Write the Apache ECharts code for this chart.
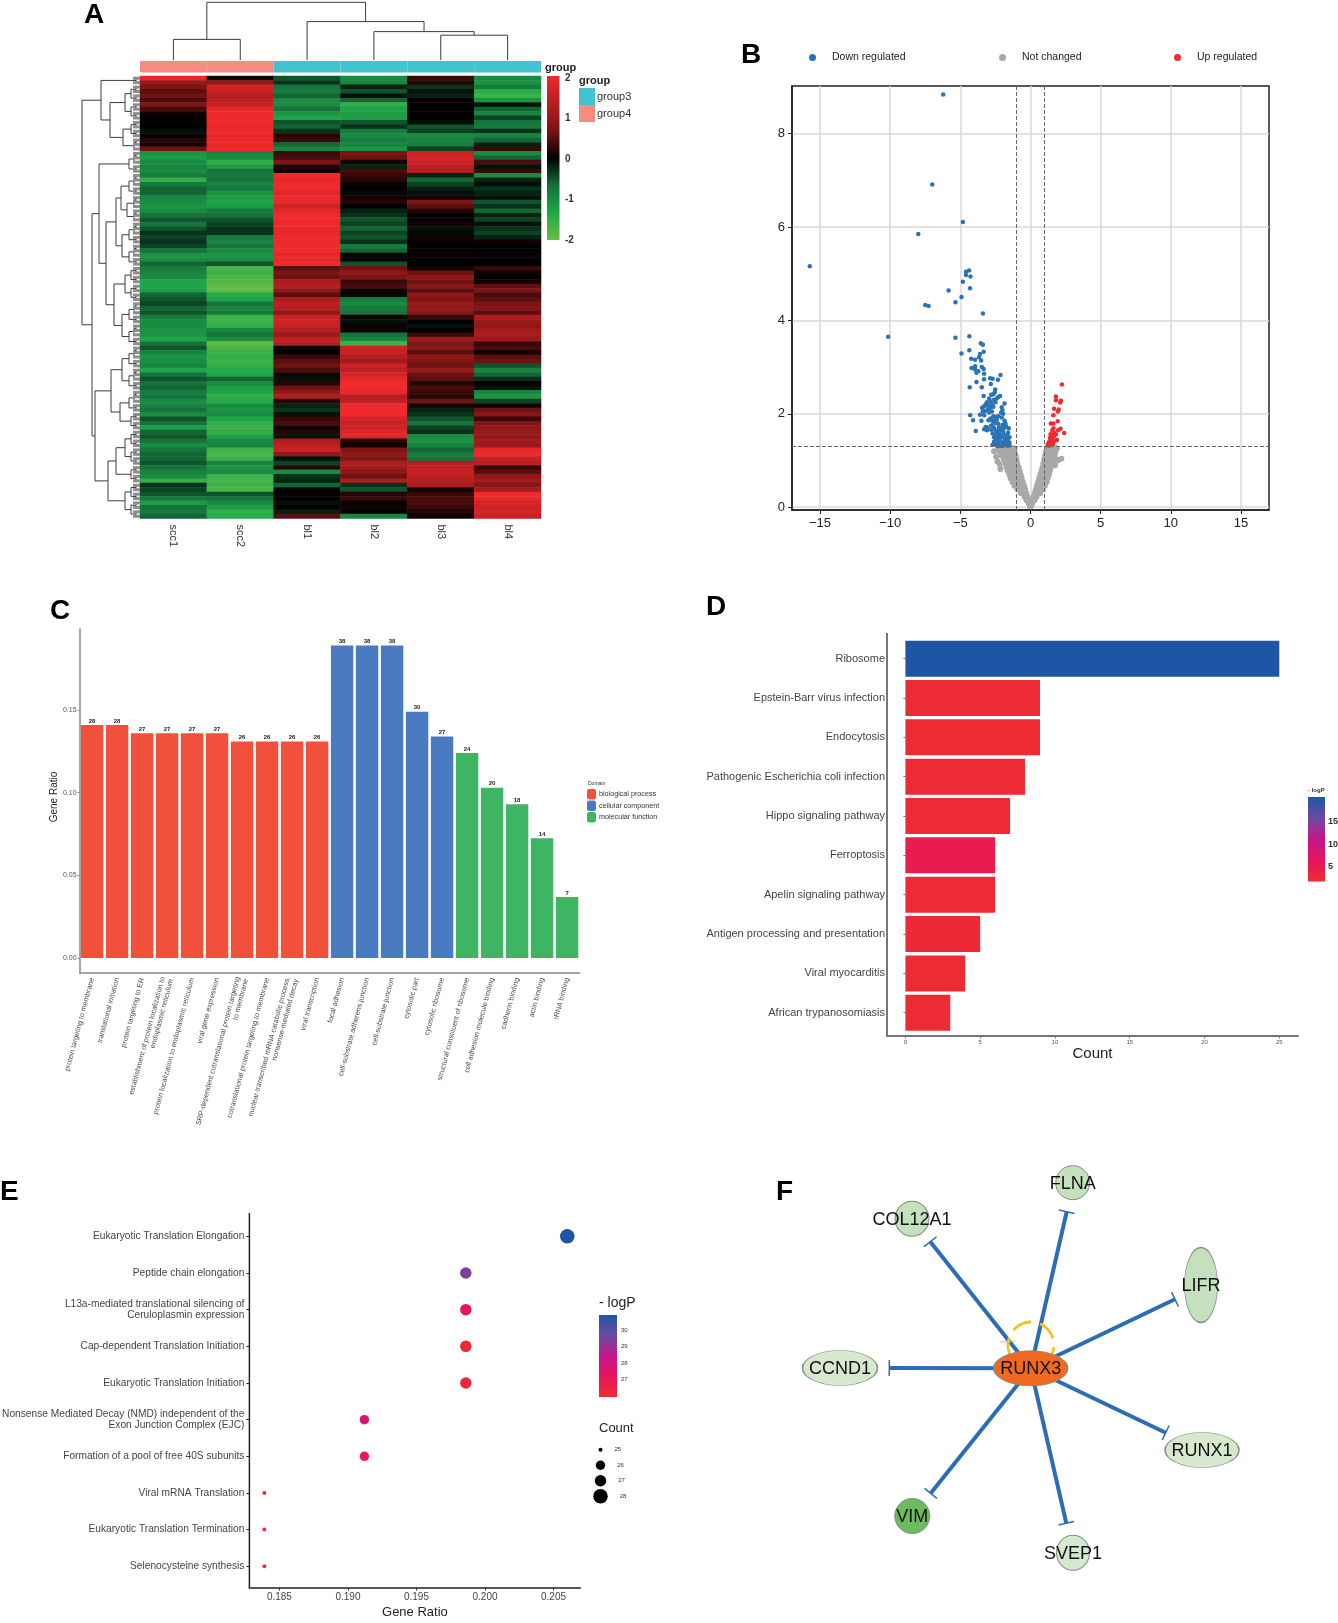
<!DOCTYPE html>
<html>
<head>
<meta charset="utf-8">
<title>figure</title>
<style>
html, body { margin: 0; padding: 0; background: #fff; }
#main { width: 1338px; height: 1623px; }
</style>
<script src="https://cdn.jsdelivr.net/npm/echarts@6/dist/echarts.min.js"></script>
</head>
<body>
<div id="main"></div>
<script>
// panel A
var sampleNames = ['scc1', 'scc2', 'bl1', 'bl2', 'bl3', 'bl4'];
var sampleGroups = ['group4', 'group4', 'group3', 'group3', 'group3', 'group3'];
var scc1 = [1.9,1.0,.7,.5,.6,.4,.7,.4,.1,0,
	.05,0,-.1,.05,.2,.1,.6,-1.1,-1.2,-1.0,
	-.9,-1.0,-.8,-1.5,-.8,-.6,-.6,-.9,-1.0,-1.1,
	-1.0,-.7,-.5,-.7,-.5,-.3,-.4,-.3,-.4,-.7,
	-1.1,-1.0,-.6,-.8,-.9,-1.0,-1.3,-1.3,-1.2,-.6,
	-.5,-.4,-.6,-.5,-.8,-1.0,-1.0,-1.1,-1.1,-1.3,
	-.7,-.5,-.9,-1.1,-1.0,-.9,-1.3,-.7,-.5,-.7,
	-.6,-.8,-.7,-1.0,-.9,-.7,-1.0,-.5,-.7,-1.2,
	-.6,-.5,-.7,-1.0,-.7,-.6,-.6,-.5,-.7,-.9,
	-1.0,-1.5,-.3,-.4,-.5,-.8,-1.2,-.7,-.8,-.6];
var scc2 = [.1,.9,1.6,1.5,1.3,1.4,1.5,1.9,2,2,
	2,1.9,2,1.9,2,1.9,2,-.9,-1.0,-1.5,
	-1.2,-.7,-.8,-.7,-.9,-.8,-1.1,-1.2,-1.3,-1.2,
	-.8,-.7,-.5,-.4,-.3,-.3,-.8,-.9,-.7,-1.0,
	-1.1,-1.0,-.5,-1.7,-1.6,-1.7,-1.8,-1.9,-1.9,-1.4,
	-1.3,-.7,-.9,-.8,-1.6,-1.6,-1.5,-.9,-.7,-1.0,
	-1.9,-1.7,-1.6,-1.5,-1.6,-1.5,-1.4,-1.3,-.6,-1.0,
	-1.2,-1.3,-1.5,-1.4,-1.0,-1.1,-1.0,-1.3,-1.5,-1.6,
	-1.5,-1.2,-1.0,-.9,-1.6,-1.7,-1.6,-.9,-1.1,-1.0,
	-1.6,-1.7,-1.6,-1.7,-.5,-.7,-1.0,-1.2,-1.5,-1.4];
var bl1 = [-.5,-.3,-.7,-.8,-.6,-1.0,-1.0,-.7,-1.1,-1.3,
	-.5,-.6,-.3,.2,.3,-.6,-.9,.3,.4,.7,
	.2,.1,2,1.9,2,2,1.8,2,1.9,1.6,
	1.9,2,2,2,1.9,1.9,2,2,2,2,
	1.9,1.9,2,.5,.7,.6,1.2,1.3,.9,.5,
	1.2,1.4,1.3,.9,1.5,1.6,1.5,1.3,1.0,1.4,
	1.3,.1,0,.3,.5,.6,.4,.1,-.1,.2,
	.6,.9,1.2,.2,-.2,-.3,-.1,.3,.4,.1,
	.2,-.1,1.2,1.4,1.5,.9,-.1,-.4,.2,-1.0,
	-.3,-.2,-.6,0,.05,0,-.1,0,-.2,.5];
var bl2 = [-1.0,-.9,-.2,-.5,-.1,-.6,-1.5,-1.3,-1.2,-1.2,
	-.5,-.3,-.8,-1.0,-.8,-.9,-1.1,.7,.6,.1,
	-.2,.4,.3,.2,.05,0,-.05,.1,.2,0,
	-.2,-.3,-.5,-.4,-.6,-.4,-.5,-.3,-.8,-.6,
	0,.05,-.5,.6,.9,.7,.3,.4,.1,-.05,
	-.8,-1.0,-.8,-.7,.1,-.1,.05,.1,-.7,-.9,
	-1.6,1.6,1.5,1.3,1.1,1.6,1.4,1.7,1.9,2,
	2,1.9,1.3,1.4,2,2,2,1.7,1.5,1.6,
	1.8,1.8,.2,.1,.7,.9,.7,1.2,1.1,.9,
	.6,1.2,-.3,-.5,.2,.3,.05,.1,0,-.9];
var bl3 = [.3,.2,-.3,-.1,-.2,.05,0,0,0,0,
	-.1,-.5,-.4,-1.0,-.9,-.8,-.4,1.6,1.7,1.6,
	1.4,1.3,-.2,-.6,-.4,-.2,-.1,.1,.7,.5,
	.2,0,.05,.1,-.1,-.05,.1,.05,0,0,
	.05,0,0,.1,.6,.9,.6,.8,.5,.9,
	.7,1,.9,.8,.3,0,-.1,0,.3,1.0,
	.7,.8,.5,.9,.7,.6,1.0,.6,.5,.2,
	.4,.3,.2,.6,.1,-.2,-.3,-.5,-.7,-.4,
	-.3,-1.0,-1.1,-.9,-.6,-.8,-.7,1.3,1.4,1.5,
	1.4,1.3,1.2,.1,.3,.4,.4,.3,.2,.1];
var bl4 = [-1.0,-1.1,-.8,-1.4,-1.6,-1.1,-.1,-.6,-.9,-.4,
	-.7,-.8,-.3,-.9,-.6,-.2,.3,-1.0,-.6,.4,
	-.1,.3,-1.0,-.2,-.1,-.3,-.2,-.1,-.5,-.3,
	-.6,-.2,-.4,-.1,-.3,-.4,-.2,.1,0,0,
	.05,0,0,.3,.1,0,.1,.5,.7,.4,
	.5,.7,.8,.5,1.2,1.0,.9,1.1,1.2,1.0,
	.3,.4,.1,.5,.6,-.5,-.9,-.6,-.3,.05,
	-.1,-.9,-1.1,-.4,.1,.6,.8,.3,.7,.9,
	1.0,.9,1.1,1.0,1.9,2,1.5,1.4,.3,.5,
	.9,1.1,.8,1.1,2,1.9,1.7,1.6,1.7,1.5];
var heatColumns = [scc1, scc2, bl1, bl2, bl3, bl4];
var heatColors = ['#6abd45', '#20a84a', '#14703a', '#000000', '#7a1414', '#b81f22', '#ee2a2c'];
var heatTicks = [2, 1, 0, -1, -2];
// column dendrogram: left col, right col, height, left child height, right child height
var topLinks = [[0, 1, 20.6, 0, 0], [4, 5, 24.8, 0, 0], [3, 4.5, 28.4, 0, 24.8], [2, 3.75, 38.4, 0, 28.4], [0.5, 2.875, 57.7, 20.6, 38.4]];
// row dendrogram: [depth, upper child, lower child], 0 is one row
var p2 = [4, 0, 0];
var p3 = [6, p2, 0];
var p4 = [9, p2, p2];
var p5 = [11, p3, p2];
var p6 = [13, p3, p3];
var p8 = [15, p4, p4];
var p10 = [18, p5, p5];
var rowTree = [58,
	[39, p2, [30, p8, [17, p4, p3]]],
	[48,
		[41, p5, [34, [24, [19, p5, p6], p10], [26, p8, p10]]],
		[45, [29, p10, [20, p5, p4]], [32, [24, p8, p4], p8]]
	]
];

// panel B
var downPoints = [[-6.22,8.84],[-7.0,6.91],[-4.82,6.11],[-8.0,5.85],[-15.73,5.16],[-10.15,3.65],[-4.38,5.07],[-4.6,5.04],[-4.6,4.97],[-4.28,4.94],
	[-4.82,4.83],[-5.84,4.64],[-4.31,4.69],[-4.92,4.5],[-5.35,4.39],[-7.5,4.33],[-7.26,4.31],[-3.39,4.15],[-5.35,3.63],[-4.36,3.66],
	[-3.54,3.51],[-3.39,3.48],[-4.36,3.36],[-4.92,3.29],[-3.34,3.33],[-3.6,3.28],[-3.67,3.21],[-4.23,3.18],[-3.95,3.16],[-3.52,3.14],
	[-3.95,3.02],[-4.2,2.98],[-3.47,3.0],[-3.34,2.96],[-3.95,2.95],[-3.72,2.91],[-3.85,2.88],[-3.31,2.86],[-2.14,2.83],[-2.88,2.76],
	[-2.7,2.75],[-2.32,2.73],[-3.31,2.74],[-3.85,2.68],[-2.83,2.64],[-4.33,2.57],[-3.47,2.57],[-2.52,2.52],[-2.55,2.46],[-2.65,2.42],
	[-2.8,2.41],[-2.17,2.38],[-3.34,2.38],[-2.3,2.36],[-2.95,2.33],[-3.1,2.25],[-2.85,2.27],[-2.6,2.3],[-2.4,2.33],[-2.5,2.25],
	[-3.3,2.16],[-3.2,2.2],[-3.0,2.18],[-2.75,2.2],[-2.65,2.15],[-2.85,2.13],[-3.45,2.13],[-3.05,2.1],[-1.85,2.22],[-2.05,2.14],
	[-2.0,2.08],[-3.4,2.05],[-3.25,2.06],[-2.95,2.03],[-2.75,2.05],[-2.1,2.02],[-1.95,2.0],[-3.6,1.98],[-4.3,1.97],[-3.3,1.97],
	[-2.65,1.95],[-2.5,1.93],[-2.3,1.95],[-2.05,1.92],[-2.85,1.9],[-2.55,1.88],[-2.4,1.87],[-4.1,1.86],[-3.5,1.85],[-3.0,1.86],
	[-2.7,1.84],[-1.85,1.85],[-1.8,1.8],[-2.55,1.8],[-2.3,1.78],[-2.0,1.76],[-2.8,1.75],[-1.75,1.74],[-3.2,1.72],[-3.05,1.7],
	[-2.6,1.7],[-2.25,1.7],[-2.05,1.68],[-1.85,1.7],[-1.55,1.69],[-3.9,1.63],[-3.3,1.67],[-3.1,1.65],[-2.8,1.66],[-2.5,1.64],
	[-2.35,1.62],[-2.15,1.64],[-1.95,1.62],[-1.6,1.6],[-2.7,1.58],[-2.45,1.56],[-2.2,1.56],[-1.9,1.55],[-1.65,1.55],[-2.6,1.5],
	[-2.3,1.5],[-2.05,1.5],[-1.75,1.48],[-1.5,1.5],[-2.45,1.45],[-2.2,1.44],[-1.85,1.43],[-1.6,1.44],[-2.6,1.4],[-2.3,1.38],
	[-2.0,1.38],[-1.75,1.37],[-1.5,1.38],[-2.7,1.34],[-2.45,1.33],[-2.15,1.32],[-1.9,1.32],[-1.65,1.32],[-2.35,1.31],[-2.05,1.31],[-1.5,1.32]];
var upPoints = [[2.24,2.63],[1.81,2.37],[2.17,2.28],[1.81,2.29],[2.12,2.24],[1.68,2.11],[2.01,2.09],[1.96,2.05],[1.63,1.97],[1.94,1.84],
	[1.45,1.79],[1.63,1.79],[1.63,1.69],[2.14,1.68],[1.96,1.65],[1.55,1.64],[2.4,1.59],[1.68,1.59],[1.5,1.54],[1.43,1.56],
	[1.81,1.56],[1.66,1.51],[1.38,1.48],[1.58,1.46],[1.89,1.44],[1.45,1.42],[1.71,1.42],[1.3,1.39],[1.5,1.38],[1.25,1.35],
	[1.43,1.35],[1.6,1.35],[1.35,1.32],[1.22,1.32]];
var grayRowY = [0.02, 0.08, 0.15, 0.22, 0.3, 0.38, 0.46, 0.54, 0.62, 0.7, 0.78, 0.86, 0.94, 1.02, 1.1, 1.18, 1.26];
var grayRowX = [[-.03,.03],
	[-.12,-.07,.06,.12],
	[-.27,-.18,.16,.28],
	[-.42,-.3,-.2,.22,.33,.42],
	[-.68,-.55,-.42,-.3,.3,.42,.55,.68],
	[-.92,-.72,-.55,-.38,.38,.55,.72,.88],
	[-1.15,-.92,-.72,-.46,.46,.66,.85,1.02],
	[-1.28,-1.05,-.82,-.55,.54,.75,.98,1.15],
	[-1.42,-1.2,-.96,-.63,.62,.82,1.05,1.22],
	[-1.5,-1.28,-1.05,-.84,-.7,.7,.92,1.12,1.32],
	[-1.62,-1.38,-1.12,-.92,-.78,.78,.98,1.22,1.38],
	[-1.72,-1.45,-1.2,-1.0,-.86,.86,1.06,1.28,1.46],
	[-1.78,-1.52,-1.28,-1.08,-.95,.92,1.15,1.35,1.55],
	[-1.9,-1.62,-1.36,-1.15,-1.0,.98,1.2,1.42,1.62,1.85],
	[-2.05,-1.78,-1.5,-1.28,-1.06,1.04,1.28,1.5,1.72],
	[-2.2,-1.88,-1.6,-1.35,-1.12,1.1,1.35,1.58,1.78],
	[-2.3,-2.0,-1.72,-1.45,-1.22,1.18,1.42,1.66,1.88]];
var grayOutliers = [[-2.6,1.2],[-2.45,1.08],[-2.35,.98],[-2.2,.92],[-2.15,.82],[2.2,1.04],[1.95,1.0],[1.75,.9]];
var volcanoXTicks = [-15, -10, -5, 0, 5, 10, 15];
var volcanoYTicks = [0, 2, 4, 6, 8];

// panel C
var goTerms = ['protein targeting to membrane', 'translational initiation', 'protein targeting to ER',
	'establishment of protein localization to\nendoplasmic reticulum', 'protein localization to endoplasmic reticulum',
	'viral gene expression', 'SRP-dependent cotranslational protein targeting\nto membrane',
	'cotranslational protein targeting to membrane', 'nuclear-transcribed mRNA catabolic process,\nnonsense-mediated decay',
	'viral transcription', 'focal adhesion', 'cell-substrate adherens junction', 'cell-substrate junction',
	'cytosolic part', 'cytosolic ribosome', 'structural constituent of ribosome', 'cell adhesion molecule binding',
	'cadherin binding', 'actin binding', 'rRNA binding'];
var bpRatio = [.141, .141, .136, .136, .136, .136, .131, .131, .131, .131];
var ccRatio = [.189, .189, .189, .149, .134];
var mfRatio = [.124, .103, .093, .0725, .037];
var goCounts = [28, 28, 27, 27, 27, 27, 26, 26, 26, 26, 38, 38, 38, 30, 27, 24, 20, 18, 14, 7];
var goYTicks = [0, 0.05, 0.10, 0.15];

// panel D
var keggNames = ['Ribosome', 'Epstein-Barr virus infection', 'Endocytosis', 'Pathogenic Escherichia coli infection',
	'Hippo signaling pathway', 'Ferroptosis', 'Apelin signaling pathway', 'Antigen processing and presentation',
	'Viral myocarditis', 'African trypanosomiasis'];
var keggCount = [25, 9, 9, 8, 7, 6, 6, 5, 4, 3];
var keggLogP = [20.5, 2.2, 2.1, 2.3, 2.4, 5, 2.3, 2.5, 2.1, 2.2];
var keggTicks = [0, 5, 10, 15, 20, 25];
var logPColors = ['#ee2d2f', '#e6145e', '#c4168a', '#6a4ba0', '#1f55a6'];

// panel E
var reactomeNames = ['Eukaryotic Translation Elongation', 'Peptide chain elongation',
	'L13a-mediated translational silencing of\nCeruloplasmin expression', 'Cap-dependent Translation Initiation',
	'Eukaryotic Translation Initiation', 'Nonsense Mediated Decay (NMD) independent of the\nExon Junction Complex (EJC)',
	'Formation of a pool of free 40S subunits', 'Viral mRNA Translation', 'Eukaryotic Translation Termination', 'Selenocysteine synthesis'];
var reactomeRatio = [.206, .1986, .1986, .1986, .1986, .1912, .1912, .1839, .1839, .1839];
var reactomeLogP = [30.9, 29.4, 27.1, 26.2, 26.3, 27.6, 26.9, 26, 26, 26];
var reactomeCount = [28, 27, 27, 27, 27, 26, 26, 25, 25, 25];
var ratioTicks = [0.185, 0.190, 0.195, 0.200, 0.205];
var countLevels = [25, 26, 27, 28];
var countSizes = { 25 : 4, 26 : 9.5, 27 : 11.5, 28 : 14.5 };

// panel F
var geneNames = ['RUNX3', 'CCND1', 'COL12A1', 'FLNA', 'LIFR', 'RUNX1', 'SVEP1', 'VIM'];
var geneX = [250.7, 60, 132, 292.7, 421, 422, 293, 132.3];
var geneY = [208.3, 208, 58.7, 22.7, 125, 290, 392.7, 356];
var geneW = [74, 75, 34, 34, 33, 74, 33, 35];
var geneH = [35, 35, 35, 34, 75, 35, 35, 35];
var geneFill = ['#ef6a1e', '#d6e9cf', '#c4e0bd', '#c4e0bd', '#c4e0bd', '#d6e9cf', '#d6e9cf', '#6cbb5e'];
var inhibitEndX = [109.3, 150.3, 286.7, 395, 385.7, 286.3, 150.7];
var inhibitEndY = [208, 81.7, 51.7, 139.3, 272.7, 363.3, 333.3];
var selfLoop = [251, 185, 23];

var fontName = '"Liberation Sans", Arial, sans-serif';

var heatData = [];
for (var c = 0; c < heatColumns.length; c++) {
	for (var r = 0; r < heatColumns[c].length; r++) {
		heatData.push([ c, r, heatColumns[c][r] ]);
	}
}
var rowLabels = [];
var rowStubs = [];
for (var r = 0; r < scc1.length; r++) {
	rowLabels.push('' + r);
	rowStubs.push([ r + 0.5 ]);
}

var rowLinks = [];
var leafCursor = 0;
function walkTree(node) {
	if (node === 0) {
		leafCursor++;
		return { pos : leafCursor - 0.5, depth : 0 };
	}
	var a = walkTree(node[1]);
	var b = walkTree(node[2]);
	rowLinks.push([ a.depth, a.pos, node[0], a.pos, node[0], b.pos, b.depth, b.pos ]);
	return { pos : (a.pos + b.pos) / 2, depth : node[0] };
}
walkTree(rowTree);

var topData = [];
for (var i = 0; i < topLinks.length; i++) {
	var l = topLinks[i];
	topData.push([ l[0], l[3], l[0], l[2], l[1], l[2], l[1], l[4] ]);
}

var grayPoints = grayOutliers.slice();
for (var i = 0; i < grayRowY.length; i++) {
	for (var j = 0; j < grayRowX[i].length; j++) {
		grayPoints.push([ grayRowX[i][j], grayRowY[i] ]);
	}
}

function pad(list, before, after) {
	var out = [];
	for (var i = 0; i < before; i++) out.push(null);
	out = out.concat(list);
	for (var i = 0; i < after; i++) out.push(null);
	return out;
}

function linkItem(params, api) {
	var pts = [];
	for (var i = 0; i < 4; i++) {
		pts.push(api.coord([ api.value(i * 2), api.value(i * 2 + 1) ]));
	}
	return {
		type : 'polyline',
		shape : { points : pts },
		style : { fill : null, stroke : '#3c3c3c', lineWidth : 1 }
	};
}

function goLabel(params) {
	return goCounts[params.dataIndex];
}

var texts = [];
function addText(x, y, str, size, opts) {
	var st = { x : x, y : y, text : str, font : (opts && opts.bold ? 'bold ' : '') + size + 'px ' + fontName,
		fill : (opts && opts.fill) || '#222', textAlign : (opts && opts.align) || 'left', textVerticalAlign : 'middle' };
	texts.push({ type : 'text', silent : true, style : st });
}
function scaleTicks(ticks, min, max, top, height, x, size, bold) {
	for (var i = 0; i < ticks.length; i++) {
		addText(x, top + (max - ticks[i]) / (max - min) * height, '' + ticks[i], size, { bold : bold, fill : '#333' });
	}
}
function colorBar(x, y, w, h, colors) {
	var stops = [];
	for (var i = 0; i < colors.length; i++) {
		stops.push({ offset : 1 - i / (colors.length - 1), color : colors[i] });
	}
	texts.push({ type : 'rect', silent : true, shape : { x : x, y : y, width : w, height : h },
		style : { fill : new echarts.graphic.LinearGradient(0, 0, 0, 1, stops.reverse()) } });
}

addText(84, 15, 'A', 28, { bold : true, fill : '#000' });
addText(741, 55, 'B', 28, { bold : true, fill : '#000' });
addText(50, 611, 'C', 28, { bold : true, fill : '#000' });
addText(706, 607, 'D', 28, { bold : true, fill : '#000' });
addText(0, 1192, 'E', 28, { bold : true, fill : '#000' });
addText(776, 1192, 'F', 28, { bold : true, fill : '#000' });

addText(545, 68, 'group', 11, { bold : true, fill : '#222' });
addText(579, 81, 'group', 11, { bold : true, fill : '#222' });
addText(597, 97, 'group3', 11, { fill : '#333' });
addText(597, 114, 'group4', 11, { fill : '#333' });
texts.push({ type : 'rect', silent : true, shape : { x : 579, y : 88, width : 16, height : 17 }, style : { fill : '#42c3cf' } });
texts.push({ type : 'rect', silent : true, shape : { x : 579, y : 105, width : 16, height : 17 }, style : { fill : '#f68b84' } });
colorBar(547, 76, 12.5, 164, heatColors);
scaleTicks(heatTicks, -2, 2, 78, 162, 565, 10, true);

addText(588, 784, 'Domain', 5, { fill : '#333' });

addText(1308, 790, '- logP', 6, { bold : true, fill : '#333' });
colorBar(1308, 797, 17, 84.6, logPColors);
scaleTicks([15, 10, 5], 1.75, 20.5, 797, 84.6, 1328, 9, true);

addText(599, 1303, '- logP', 14, { fill : '#222' });
colorBar(599, 1315, 18, 82, logPColors);
scaleTicks([30, 29, 28, 27], 25.94, 30.9, 1315, 82, 621, 6, false);
addText(599, 1428, 'Count', 13, { fill : '#222' });

texts.push({ type : 'line', silent : true, shape : { x1 : 887, y1 : 633, x2 : 887, y2 : 1036 }, style : { stroke : '#777', lineWidth : 2 } });
texts.push({ type : 'line', silent : true, shape : { x1 : 249.4, y1 : 1213, x2 : 249.4, y2 : 1588 }, style : { stroke : '#222', lineWidth : 1.5 } });

var option = {
	backgroundColor : '#fff',
	animation : false,
	textStyle : { fontFamily : fontName },
	graphic : texts,
	grid : [
		{ left : 140, top : 76, width : 401, height : 442.5, outerBoundsMode : 'none' },
		{ left : 140, top : 61, width : 401, height : 11.5, outerBoundsMode : 'none' },
		{ left : 140, top : 2, width : 401, height : 58, outerBoundsMode : 'none' },
		{ left : 80, top : 76, width : 60, height : 442.5, outerBoundsMode : 'none' },
		{ left : 792, top : 86, width : 477, height : 424, show : true, borderColor : '#222', borderWidth : 1.5, outerBoundsMode : 'none' },
		{ left : 79.6, top : 629, width : 500, height : 344, outerBoundsMode : 'none' },
		{ left : 887, top : 639, width : 411, height : 393.4, outerBoundsMode : 'none' },
		{ left : 249.4, top : 1218, width : 331, height : 366.6, outerBoundsMode : 'none' },
		{ left : 590, top : 1442, width : 30, height : 62, outerBoundsMode : 'none' },
		{ left : 780, top : 1160, width : 500, height : 440, outerBoundsMode : 'none' }
	],
	xAxis : [
		{ gridIndex : 0, type : 'category', data : sampleNames, axisLine : { show : false }, axisTick : { show : false },
			axisLabel : { rotate : -90, fontSize : 11, color : '#333', margin : 6 } },
		{ gridIndex : 1, type : 'category', data : sampleNames, show : false },
		{ gridIndex : 2, type : 'value', min : -0.5, max : 5.5, show : false },
		{ gridIndex : 3, type : 'value', min : 0, max : 60, inverse : true, show : false },
		{ gridIndex : 4, type : 'value', min : -17, max : 17,
			axisLine : { show : true, onZero : false, lineStyle : { color : '#222', width : 1.5 } },
			axisTick : { show : true, customValues : volcanoXTicks, length : 4, lineStyle : { color : '#222' } },
			axisLabel : { customValues : volcanoXTicks, fontSize : 13, color : '#222', margin : 7,
				formatter : function(v) { return ('' + v).replace('-', '\u2212'); } },
			splitLine : { show : true, lineStyle : { color : '#d9d9d9', width : 1.5 } } },
		{ gridIndex : 5, type : 'category', data : goTerms,
			axisLine : { onZero : false, lineStyle : { color : '#888', width : 1.5 } },
			axisTick : { alignWithLabel : true, length : 3, lineStyle : { color : '#888' } },
			axisLabel : { interval : 0, rotate : 75, fontSize : 7.2, lineHeight : 8.5, color : '#4a4a4a', margin : 5, padding : [ 8, 0, 0, 0 ] } },
		{ gridIndex : 6, type : 'value', min : -1.23, max : 26.25, offset : 3,
			axisLine : { show : true, onZero : false, lineStyle : { color : '#777', width : 2 } },
			axisTick : { show : true, customValues : keggTicks, length : 3, lineStyle : { color : '#777' } },
			axisLabel : { customValues : keggTicks, fontSize : 6, color : '#555', margin : 4 },
			splitLine : { show : false },
			name : 'Count', nameLocation : 'middle', nameGap : 9, nameTextStyle : { fontSize : 15, color : '#222' } },
		{ gridIndex : 7, type : 'value', min : 0.18281, max : 0.20696, offset : 3,
			axisLine : { show : true, onZero : false, lineStyle : { color : '#222', width : 1.5 } },
			axisTick : { show : true, customValues : ratioTicks, length : 3, lineStyle : { color : '#333' } },
			axisLabel : { customValues : ratioTicks, fontSize : 10, color : '#444', margin : 5,
				formatter : function(v) { return v.toFixed(3); } },
			splitLine : { show : false },
			name : 'Gene Ratio', nameLocation : 'middle', nameGap : 18, nameTextStyle : { fontSize : 13, color : '#222' } },
		{ gridIndex : 8, type : 'value', min : 0, max : 1, show : false },
		{ gridIndex : 9, type : 'value', min : 0, max : 500, show : false }
	],
	yAxis : [
		{ gridIndex : 0, type : 'category', data : rowLabels, inverse : true, show : false },
		{ gridIndex : 1, type : 'value', min : 0, max : 1, show : false },
		{ gridIndex : 2, type : 'value', min : 0, max : 58, show : false },
		{ gridIndex : 3, type : 'value', min : 0, max : scc1.length, inverse : true, show : false },
		{ gridIndex : 4, type : 'value', min : -0.06, max : 9.02,
			axisLine : { show : true, onZero : false, lineStyle : { color : '#222', width : 1.5 } },
			axisTick : { show : true, customValues : volcanoYTicks, length : 4, lineStyle : { color : '#222' } },
			axisLabel : { customValues : volcanoYTicks, fontSize : 13, color : '#222', margin : 7 },
			splitLine : { show : true, lineStyle : { color : '#d9d9d9', width : 1.5 } } },
		{ gridIndex : 5, type : 'value', min : -0.009, max : 0.199,
			axisLine : { show : true, onZero : false, lineStyle : { color : '#888', width : 1.5 } },
			axisTick : { show : true, customValues : goYTicks, length : 2, lineStyle : { color : '#888' } },
			axisLabel : { customValues : goYTicks, fontSize : 7, color : '#555', margin : 3,
				formatter : function(v) { return v.toFixed(2); } },
			splitLine : { show : false },
			name : 'Gene Ratio', nameLocation : 'middle', nameGap : 18, nameTextStyle : { fontSize : 10, color : '#222', padding : [ 0, 0, 0, 8 ] } },
		{ gridIndex : 6, type : 'category', data : keggNames, inverse : true,
			axisLine : { show : false },
			axisTick : { show : true, alignWithLabel : true, length : 2, lineStyle : { color : '#777' } },
			axisLabel : { interval : 0, fontSize : 11, color : '#444', margin : 2 } },
		{ gridIndex : 7, type : 'category', data : reactomeNames, inverse : true,
			axisLine : { show : false },
			axisTick : { show : true, alignWithLabel : true, length : 3, lineStyle : { color : '#222' } },
			axisLabel : { interval : 0, fontSize : 10.2, lineHeight : 11.5, color : '#444', margin : 5 } },
		{ gridIndex : 8, type : 'value', min : 24.5, max : 28.5, inverse : true, show : false },
		{ gridIndex : 9, type : 'value', min : 0, max : 440, inverse : true, show : false }
	],
	visualMap : [
		{ type : 'continuous', show : false, seriesIndex : 0, dimension : 2, min : -2, max : 2, inRange : { color : heatColors } },
		{ type : 'continuous', show : false, seriesIndex : 10, dimension : 2, min : 1.75, max : 20.5, inRange : { color : logPColors } },
		{ type : 'continuous', show : false, seriesIndex : 11, dimension : 2, min : 25.94, max : 30.9, inRange : { color : logPColors } }
	],
	legend : [
		{ data : [ 'Down regulated' ], left : 804, top : 47, icon : 'circle', itemWidth : 7, itemHeight : 7,
			textStyle : { fontSize : 10.5, color : '#222', padding : [ 0, 0, 0, 11 ] }, selectedMode : false },
		{ data : [ 'Not changed' ], left : 994, top : 47, icon : 'circle', itemWidth : 7, itemHeight : 7,
			textStyle : { fontSize : 10.5, color : '#222', padding : [ 0, 0, 0, 11 ] }, selectedMode : false },
		{ data : [ 'Up regulated' ], left : 1169, top : 47, icon : 'circle', itemWidth : 7, itemHeight : 7,
			textStyle : { fontSize : 10.5, color : '#222', padding : [ 0, 0, 0, 11 ] }, selectedMode : false },
		{ data : [ 'biological process', 'cellular component', 'molecular function' ], orient : 'vertical',
			left : 587, top : 789, itemWidth : 9, itemHeight : 10.5, itemGap : 1, padding : 0, selectedMode : false,
			textStyle : { fontSize : 7.2, color : '#333', padding : [ 0, 0, 0, -2 ] } }
	],
	series : [
		{ name : 'heat', type : 'heatmap', xAxisIndex : 0, yAxisIndex : 0, data : heatData, progressive : 0 },
		{ name : 'groups', type : 'bar', xAxisIndex : 1, yAxisIndex : 1, barWidth : '100%', silent : true,
			data : sampleGroups.map(function(g) {
				return { value : 1, itemStyle : { color : g == 'group4' ? '#f68b84' : '#42c3cf' } };
			}) },
		{ name : 'columnTree', type : 'custom', xAxisIndex : 2, yAxisIndex : 2, clip : false, silent : true,
			renderItem : linkItem, data : topData },
		{ name : 'rowTree', type : 'custom', xAxisIndex : 3, yAxisIndex : 3, clip : false, silent : true,
			renderItem : linkItem, data : rowLinks },
		{ name : 'Not changed', type : 'scatter', xAxisIndex : 4, yAxisIndex : 4, symbolSize : 6, data : grayPoints, itemStyle : { color : '#a9a9a9', opacity : 1 } },
		{ name : 'Down regulated', type : 'scatter', xAxisIndex : 4, yAxisIndex : 4, symbolSize : 4.5, data : downPoints, itemStyle : { color : '#2a73b5', opacity : 1 },
			markLine : { silent : true, symbol : 'none', label : { show : false },
				lineStyle : { color : '#666', type : 'dashed', width : 1 },
				data : [ { xAxis : -1 }, { xAxis : 1 }, { yAxis : 1.3 } ] } },
		{ name : 'Up regulated', type : 'scatter', xAxisIndex : 4, yAxisIndex : 4, symbolSize : 4.5, data : upPoints, itemStyle : { color : '#ee2a33', opacity : 1 } },
		{ name : 'biological process', type : 'bar', stack : 'go', xAxisIndex : 5, yAxisIndex : 5, barWidth : 22.4, data : pad(bpRatio, 0, 10), itemStyle : { color : '#f1513c' },
			label : { show : true, position : 'top', fontSize : 6, fontWeight : 'bold', distance : 1, color : '#222', formatter : goLabel } },
		{ name : 'cellular component', type : 'bar', stack : 'go', xAxisIndex : 5, yAxisIndex : 5, barWidth : 22.4, data : pad(ccRatio, 10, 5), itemStyle : { color : '#4a7abf' },
			label : { show : true, position : 'top', fontSize : 6, fontWeight : 'bold', distance : 1, color : '#222', formatter : goLabel } },
		{ name : 'molecular function', type : 'bar', stack : 'go', xAxisIndex : 5, yAxisIndex : 5, barWidth : 22.4, data : pad(mfRatio, 15, 0), itemStyle : { color : '#3eb562' },
			label : { show : true, position : 'top', fontSize : 6, fontWeight : 'bold', distance : 1, color : '#222', formatter : goLabel } },
		{ name : 'kegg', type : 'bar', xAxisIndex : 6, yAxisIndex : 6, barWidth : 36,
			encode : { x : 0, y : 1 },
			data : keggCount.map(function(v, i) { return [ v, i, keggLogP[i] ]; }) },
		{ name : 'reactome', type : 'scatter', xAxisIndex : 7, yAxisIndex : 7, itemStyle : { opacity : 1 },
			symbolSize : function(v) { return countSizes[v[3]]; },
			data : reactomeRatio.map(function(v, i) { return [ v, i, reactomeLogP[i], reactomeCount[i] ]; }) },
		{ name : 'countLegend', type : 'scatter', xAxisIndex : 8, yAxisIndex : 8, silent : true,
			itemStyle : { color : '#000', opacity : 1 },
			symbolSize : function(v) { return countSizes[v[1]]; },
			label : { show : true, position : 'right', distance : 12, fontSize : 6, color : '#333',
				formatter : function(p) { return p.value[1]; } },
			data : countLevels.map(function(v) { return [ 0.35, v ]; }) },
		{ name : 'inhibitions', type : 'custom', xAxisIndex : 9, yAxisIndex : 9, silent : true, clip : false, z : 2,
			data : inhibitEndX.map(function(v, i) { return [ v, inhibitEndY[i] ]; }),
			renderItem : function(params, api) {
				var a = api.coord([ geneX[0], geneY[0] ]);
				var b = api.coord([ api.value(0), api.value(1) ]);
				var dx = b[0] - a[0], dy = b[1] - a[1];
				var len = Math.sqrt(dx * dx + dy * dy);
				var nx = -dy / len * 8, ny = dx / len * 8;
				return { type : 'group', children : [
					{ type : 'line', shape : { x1 : a[0], y1 : a[1], x2 : b[0], y2 : b[1] }, style : { stroke : '#2d6db5', lineWidth : 4 } },
					{ type : 'line', shape : { x1 : b[0] - nx, y1 : b[1] - ny, x2 : b[0] + nx, y2 : b[1] + ny }, style : { stroke : '#2d6db5', lineWidth : 1.5 } }
				] };
			} },
		{ name : 'selfLoop', type : 'custom', xAxisIndex : 9, yAxisIndex : 9, silent : true, clip : false, z : 2,
			data : [ selfLoop ],
			renderItem : function(params, api) {
				var c = api.coord([ api.value(0), api.value(1) ]);
				var r = api.value(2);
				return { type : 'group', children : [
					{ type : 'arc', shape : { cx : c[0], cy : c[1], r : r, startAngle : Math.PI * 0.82, endAngle : Math.PI * 0.16, clockwise : true },
						style : { fill : null, stroke : '#ecc428', lineWidth : 2.8, lineDash : [ 20, 9 ] } },
					{ type : 'line', shape : { x1 : c[0] - r - 8, y1 : c[1] - 3, x2 : c[0] - r + 7, y2 : c[1] - 4 }, style : { stroke : '#ecc428', lineWidth : 1.2 } }
				] };
			} },
		{ name : 'genes', type : 'scatter', xAxisIndex : 9, yAxisIndex : 9, silent : true, z : 3,
			symbol : 'circle',
			symbolSize : function(v, p) { return [ geneW[p.dataIndex], geneH[p.dataIndex] ]; },
			label : { show : true, position : 'inside', fontSize : 18, color : '#111', offset : [ 0, 1 ],
				formatter : function(p) { return geneNames[p.dataIndex]; } },
			data : geneX.map(function(v, i) {
				return { value : [ v, geneY[i] ], itemStyle : { color : geneFill[i], borderColor : '#7f8f7f', borderWidth : 1, opacity : 1 } };
			}) },
		{ name : 'rowStubs', type : 'custom', xAxisIndex : 3, yAxisIndex : 3, clip : false, silent : true,
			data : rowStubs,
			renderItem : function(params, api) {
				var a = api.coord([ 0, api.value(0) ]);
				return { type : 'line', shape : { x1 : a[0] - 7, y1 : a[1], x2 : a[0], y2 : a[1] }, style : { stroke : '#8e8e8e', lineWidth : 3 } };
			} }
	]
};

var chart = echarts.init(document.getElementById('main'), null, { renderer : 'canvas' });
chart.setOption(option);
</script>
</body>
</html>
